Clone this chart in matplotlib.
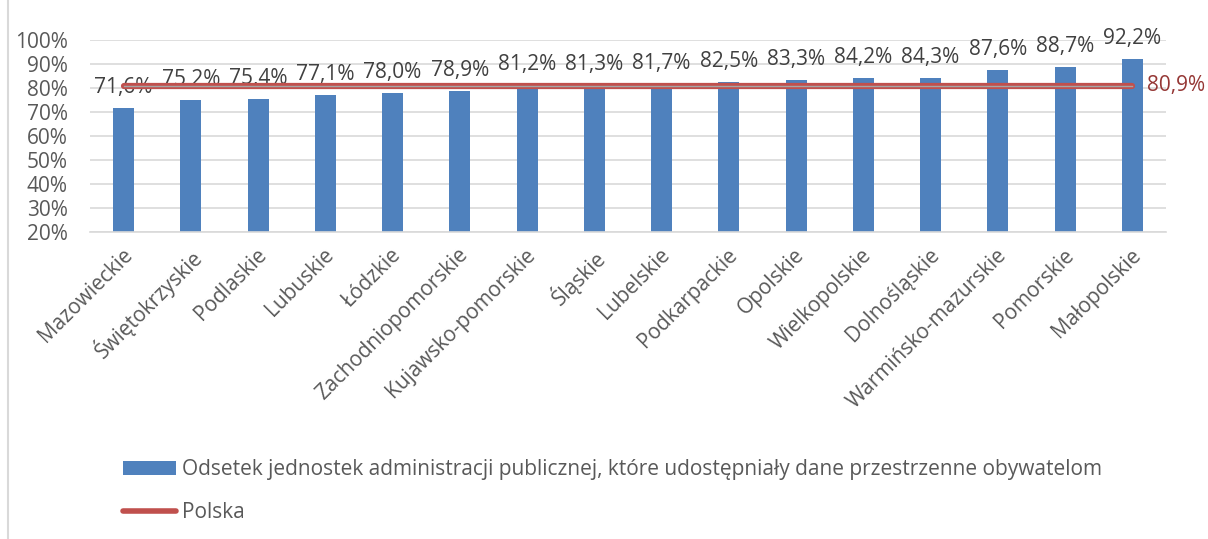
import matplotlib
matplotlib.use("Agg")
import matplotlib.pyplot as plt
from matplotlib.patches import Patch
from matplotlib.lines import Line2D
from matplotlib.transforms import ScaledTranslation

categories = ["Mazowieckie", "Świętokrzyskie", "Podlaskie", "Lubuskie", "Łódzkie",
              "Zachodniopomorskie", "Kujawsko-pomorskie", "Śląskie", "Lubelskie",
              "Podkarpackie", "Opolskie", "Wielkopolskie", "Dolnośląskie",
              "Warmińsko-mazurskie", "Pomorskie", "Małopolskie"]
values = [71.6, 75.2, 75.4, 77.1, 78.0, 78.9, 81.2, 81.3, 81.7, 82.5, 83.3, 84.2,
          84.3, 87.6, 88.7, 92.2]
polska = 80.9
yticks = [20, 30, 40, 50, 60, 70, 80, 90, 100]

bar_label = "Odsetek jednostek administracji publicznej, które udostępniały dane przestrzenne obywatelom"
line_label = "Polska"

plt.rcParams['font.family'] = ['Open Sans', 'DejaVu Sans']
TXT = '#595959'
BLUE = '#4F81BD'
RED = '#C0504D'
FS = 15

fig = plt.figure(figsize=(12.08, 5.39), dpi=100)
ax = fig.add_axes([90/1208, 1-232/539, (1166-90)/1208, (232-40)/539])

x = list(range(len(categories)))
ax.bar(x, values, width=0.31, color=BLUE, zorder=2)
ax.plot([x[0], x[-1]], [polska, polska], color=RED, lw=4.5, solid_capstyle='round', zorder=4)
ax.plot([x[0], x[-1]], [polska, polska], color='#A6A6A6', lw=1.0, zorder=5)

for xi, v in zip(x, values):
    ax.annotate(f"{v:.1f}%".replace('.', ','), (xi, v), xytext=(0, 7),
                textcoords='offset points', ha='center', va='bottom',
                fontsize=FS, color='#404040', zorder=3)
ax.annotate(f"{polska:.1f}%".replace('.', ','), (x[-1], polska), xytext=(10.5, 0),
            textcoords='offset points', ha='left', va='center',
            fontsize=FS, color='#953735', annotation_clip=False)

ax.set_xlim(-0.5, len(categories) - 0.5)
ax.set_ylim(20, 100)
ax.set_yticks(yticks)
ax.set_yticklabels([f"{t}%" for t in yticks], fontsize=FS, color=TXT)
ax.yaxis.grid(True, color='#D9D9D9', lw=1.2, zorder=0)
ax.set_axisbelow(True)
ax.tick_params(axis='y', length=0, pad=16)
ax.tick_params(axis='x', length=0, pad=9)
ax.set_xticks(x)
ax.set_xticklabels(categories, rotation=45, ha='right', va='top', rotation_mode='anchor',
                   fontsize=FS, color=TXT)
for lab in ax.get_xticklabels():
    lab.set_transform(lab.get_transform() + ScaledTranslation(-2/100, 0, fig.dpi_scale_trans))
for s in ['top', 'right', 'left']:
    ax.spines[s].set_visible(False)
ax.spines['bottom'].set_color('#D9D9D9')
ax.spines['bottom'].set_linewidth(1.2)

# chart border (left edge)
fig.add_artist(Line2D([8/1208, 8/1208], [0, 1], transform=fig.transFigure,
                      color='#D9D9D9', lw=1.5))

handles = [Patch(facecolor=BLUE, edgecolor='none'),
           Line2D([], [], color=RED, lw=4, solid_capstyle='round')]
leg = fig.legend(handles, [bar_label, line_label], loc='upper left',
                 bbox_to_anchor=(123/1208, 1-459/539), frameon=False,
                 fontsize=FS, handlelength=2.55, handleheight=0.65,
                 handletextpad=0.3, labelspacing=1.04, labelcolor=TXT,
                 borderpad=0, borderaxespad=0)

fig.savefig("out.png", dpi=100)
